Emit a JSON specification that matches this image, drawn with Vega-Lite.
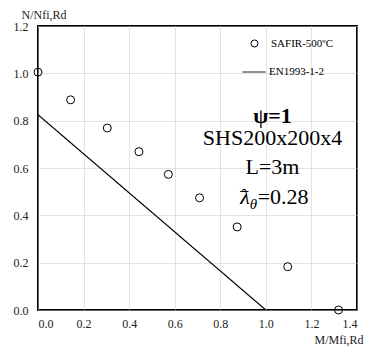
{
  "$schema": "https://vega.github.io/schema/vega-lite/v6.json",
  "width": 319,
  "height": 284,
  "autosize": {"type": "none"},
  "padding": {"left": 38, "top": 26, "right": 8, "bottom": 36},
  "background": "white",
  "config": {
    "font": "Liberation Serif",
    "view": {"stroke": "black", "strokeWidth": 2},
    "legend": {"padding": 0, "offset": 0, "labelFont": "Liberation Serif", "labelFontSize": 11, "labelColor": "black"}
  },
  "datasets": {
    "safir": [
      {"m": 0.0, "n": 1.005, "series": "SAFIR-500ºC"},
      {"m": 0.143, "n": 0.888, "series": "SAFIR-500ºC"},
      {"m": 0.304, "n": 0.769, "series": "SAFIR-500ºC"},
      {"m": 0.443, "n": 0.669, "series": "SAFIR-500ºC"},
      {"m": 0.572, "n": 0.573, "series": "SAFIR-500ºC"},
      {"m": 0.709, "n": 0.474, "series": "SAFIR-500ºC"},
      {"m": 0.874, "n": 0.351, "series": "SAFIR-500ºC"},
      {"m": 1.096, "n": 0.183, "series": "SAFIR-500ºC"},
      {"m": 1.319, "n": 0.0, "series": "SAFIR-500ºC"}
    ],
    "en": [
      {"m": 0.0, "n": 0.825, "series": "EN1993-1-2"},
      {"m": 1.0, "n": 0.0, "series": "EN1993-1-2"}
    ],
    "notes": [
      {"id": "psi", "label": "ψ=1", "m": 1.029, "n": 0.82},
      {"id": "sec", "label": "SHS200x200x4", "m": 1.029, "n": 0.727},
      {"id": "sec", "label": "L=3m", "m": 1.029, "n": 0.604},
      {"id": "lam", "label": "λ", "m": 0.929, "n": 0.477},
      {"id": "bar", "label": "¯", "m": 0.905, "n": 0.47},
      {"id": "sub", "label": "θ", "m": 0.929, "n": 0.45},
      {"id": "val", "label": "=0.28", "m": 0.964, "n": 0.477}
    ]
  },
  "encoding": {
    "x": {
      "field": "m", "type": "quantitative",
      "scale": {"domain": [0, 1.4], "nice": false, "zero": false},
      "axis": {
        "values": [0, 0.2, 0.4, 0.6, 0.8, 1.0, 1.2, 1.4],
        "format": ".1f",
        "grid": true, "gridColor": "#c8c8c8", "gridDash": [1, 1], "gridWidth": 1,
        "ticks": false, "domain": false,
        "labelFont": "Liberation Serif", "labelFontSize": 12, "labelColor": "#222", "labelPadding": 8,
        "title": "M/Mfi,Rd", "titleFont": "Liberation Serif", "titleFontSize": 12, "titleFontWeight": "normal", "titleColor": "#222",
        "titleX": 325, "titleY": 29, "titleAlign": "right", "titleBaseline": "middle"
      }
    },
    "y": {
      "field": "n", "type": "quantitative",
      "scale": {"domain": [0, 1.2], "nice": false, "zero": false},
      "axis": {
        "values": [0, 0.2, 0.4, 0.6, 0.8, 1.0, 1.2],
        "format": ".1f",
        "grid": true, "gridColor": "#c8c8c8", "gridDash": [1, 1], "gridWidth": 1,
        "ticks": false, "domain": false,
        "labelFont": "Liberation Serif", "labelFontSize": 12, "labelColor": "#222", "labelPadding": 10,
        "title": "N/Nfi,Rd", "titleFont": "Liberation Serif", "titleFontSize": 12, "titleFontWeight": "normal", "titleColor": "#222",
        "titleAngle": 0, "titleX": -17, "titleY": -12, "titleAlign": "left", "titleBaseline": "middle"
      }
    }
  },
  "layer": [
    {
      "data": {"name": "en"},
      "mark": {"type": "line", "color": "black", "strokeWidth": 1.2},
      "encoding": {
        "strokeDash": {
          "field": "series", "type": "nominal",
          "scale": {"range": [[1, 0]]},
          "legend": {
            "orient": "none", "legendX": 204, "legendY": 34, "title": null,
            "symbolType": "stroke", "symbolSize": 529, "symbolStrokeColor": "black", "symbolStrokeWidth": 1,
            "labelOffset": 3
          }
        }
      }
    },
    {
      "data": {"name": "safir"},
      "mark": {"type": "point", "filled": false, "color": "black", "size": 64, "strokeWidth": 1, "opacity": 1},
      "encoding": {
        "shape": {
          "field": "series", "type": "nominal",
          "scale": {"range": ["circle"]},
          "legend": {
            "orient": "none", "legendX": 211, "legendY": 12, "title": null,
            "symbolSize": 50, "symbolStrokeColor": "black", "symbolFillColor": "transparent", "symbolStrokeWidth": 1,
            "labelOffset": 11
          }
        }
      }
    },
    {
      "data": {"name": "notes"},
      "transform": [{"filter": "datum.id === 'psi'"}],
      "mark": {"type": "text", "font": "Liberation Serif", "fontSize": 22, "fontWeight": "bold", "align": "center", "baseline": "middle", "color": "black"},
      "encoding": {"text": {"field": "label"}}
    },
    {
      "data": {"name": "notes"},
      "transform": [{"filter": "datum.id === 'sec'"}],
      "mark": {"type": "text", "font": "Liberation Serif", "fontSize": 22, "align": "center", "baseline": "middle", "color": "black"},
      "encoding": {"text": {"field": "label"}}
    },
    {
      "data": {"name": "notes"},
      "transform": [{"filter": "datum.id === 'lam'"}],
      "mark": {"type": "text", "font": "Liberation Serif", "fontSize": 22, "fontStyle": "italic", "align": "right", "baseline": "middle", "color": "black"},
      "encoding": {"text": {"field": "label"}}
    },
    {
      "data": {"name": "notes"},
      "transform": [{"filter": "datum.id === 'bar'"}],
      "mark": {"type": "text", "font": "Liberation Serif", "fontSize": 16, "align": "center", "baseline": "middle", "color": "black"},
      "encoding": {"text": {"field": "label"}}
    },
    {
      "data": {"name": "notes"},
      "transform": [{"filter": "datum.id === 'sub'"}],
      "mark": {"type": "text", "font": "Liberation Serif", "fontSize": 15, "fontStyle": "italic", "align": "left", "baseline": "middle", "color": "black"},
      "encoding": {"text": {"field": "label"}}
    },
    {
      "data": {"name": "notes"},
      "transform": [{"filter": "datum.id === 'val'"}],
      "mark": {"type": "text", "font": "Liberation Serif", "fontSize": 22, "align": "left", "baseline": "middle", "color": "black"},
      "encoding": {"text": {"field": "label"}}
    }
  ]
}
